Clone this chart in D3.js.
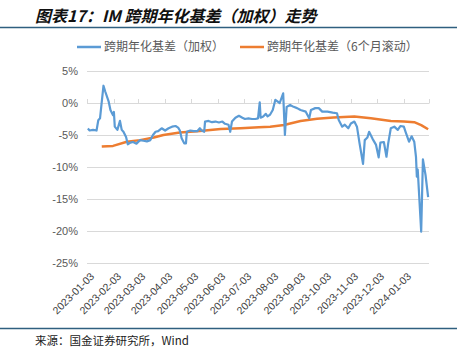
<!DOCTYPE html>
<html>
<head>
<meta charset="utf-8">
<script src="https://cdn.jsdelivr.net/npm/d3@7"></script>
<style>
  body { margin: 0; background: #fff; }
  svg { display: block; font-family: "Noto Sans CJK SC", "Noto Sans", sans-serif; }
</style>
</head>
<body>
<svg width="457" height="351"></svg>
<script>
// series 1: weighted basis (dates)
const blueDates = ["2023-01-04","2023-01-06","2023-01-10","2023-01-14","2023-01-16","2023-01-18","2023-01-19","2023-01-22","2023-01-24","2023-01-28",
  "2023-01-30","2023-02-02","2023-02-03","2023-02-04","2023-02-07","2023-02-10","2023-02-12","2023-02-14","2023-02-17","2023-02-19",
  "2023-02-22","2023-02-25","2023-03-01","2023-03-05","2023-03-09","2023-03-13","2023-03-17","2023-03-20","2023-03-23","2023-03-26",
  "2023-03-30","2023-04-03","2023-04-07","2023-04-11","2023-04-15","2023-04-18","2023-04-20","2023-04-22","2023-04-25","2023-04-27",
  "2023-04-28","2023-05-02","2023-05-06","2023-05-10","2023-05-13","2023-05-15","2023-05-18","2023-05-19","2023-05-23","2023-05-27",
  "2023-05-31","2023-06-04","2023-06-08","2023-06-11","2023-06-15","2023-06-17","2023-06-19","2023-06-23","2023-06-27","2023-07-01",
  "2023-07-04","2023-07-08","2023-07-12","2023-07-16","2023-07-19","2023-07-21","2023-07-22","2023-07-25","2023-07-28","2023-07-30",
  "2023-08-02","2023-08-05","2023-08-08","2023-08-10","2023-08-13","2023-08-17","2023-08-19","2023-08-21","2023-08-25","2023-08-29",
  "2023-09-02","2023-09-06","2023-09-12","2023-09-16","2023-09-18","2023-09-23","2023-09-27","2023-10-01","2023-10-07","2023-10-13",
  "2023-10-18","2023-10-20","2023-10-24","2023-10-27","2023-10-31","2023-11-03","2023-11-07","2023-11-10","2023-11-13","2023-11-17",
  "2023-11-19","2023-11-22","2023-11-24","2023-11-28","2023-12-02","2023-12-05","2023-12-07","2023-12-11","2023-12-14","2023-12-16",
  "2023-12-19","2023-12-23","2023-12-27","2023-12-30","2024-01-03","2024-01-05","2024-01-09","2024-01-12","2024-01-15","2024-01-17",
  "2024-01-18","2024-01-19","2024-01-23","2024-01-25","2024-01-28","2024-01-31"];
const blueValues = [-4.0,-4.3,-4.2,-4.3,-2.7,-2.4,-1.1,2.7,1.8,0.2,
  -1.1,-1.9,-1.4,-3.7,-4.2,-2.8,-4.2,-4.5,-5.3,-6.45,
  -6.2,-6.1,-6.35,-5.8,-5.9,-6.0,-5.8,-5.0,-4.5,-4.4,
  -3.95,-4.3,-3.95,-3.7,-3.6,-3.85,-4.3,-5.5,-6.3,-6.3,
  -4.5,-4.3,-4.4,-4.4,-3.95,-4.3,-4.5,-2.9,-2.8,-3.0,
  -2.9,-3.05,-2.9,-3.25,-3.4,-4.5,-2.9,-2.3,-2.0,-2.3,
  -2.5,-2.4,-2.5,-2.5,-2.4,0.1,-2.3,-2.1,-1.7,-2.1,
  -1.8,-1.1,0.5,0.3,0.0,1.5,-5.0,-0.6,-0.3,-0.6,
  -0.8,-1.1,-1.35,-2.4,-1.1,-0.8,-0.8,-1.35,-1.35,-1.5,
  -1.6,-2.65,-3.7,-3.4,-3.95,-3.2,-2.9,-3.7,-6.3,-9.5,
  -5.8,-5.4,-4.5,-5.6,-6.55,-8.5,-6.2,-6.1,-8.4,-6.3,
  -3.95,-3.7,-4.2,-3.6,-3.7,-4.5,-6.05,-5.2,-6.05,-8.4,
  -11.5,-10.4,-20.1,-8.8,-11.25,-14.7];

// series 2: 6-month rolling
const orangeDates = ["2023-01-20","2023-02-02","2023-02-18","2023-03-05","2023-03-21","2023-04-01","2023-04-20","2023-05-10","2023-06-06","2023-06-29",
  "2023-07-20","2023-08-02","2023-08-18","2023-09-06","2023-09-25","2023-10-14","2023-11-07","2023-11-26","2023-12-19","2024-01-03",
  "2024-01-15","2024-01-23","2024-01-31"];
const orangeValues = [-6.8,-6.7,-6.05,-5.8,-5.4,-5.0,-4.6,-4.4,-4.05,-3.95,
  -3.8,-3.7,-3.45,-2.8,-2.45,-2.25,-2.1,-2.4,-2.8,-2.9,
  -3.0,-3.45,-4.1];

const yTicks = [5, 0, -5, -10, -15, -20, -25];
const xTickLabels = ["2023-01-03","2023-02-03","2023-03-03","2023-04-03","2023-05-03","2023-06-03","2023-07-03",
  "2023-08-03","2023-09-03","2023-10-03","2023-11-03","2023-12-03","2024-01-03"];
const seriesNames = ["跨期年化基差（加权）", "跨期年化基差（6个月滚动）"];

const parse = d3.timeParse("%Y-%m-%d");
const svg = d3.select("svg");

const x = d3.scaleTime()
  .domain([parse("2023-01-03"), parse("2024-02-01")])
  .range([87, 429]);
const y = d3.scaleLinear().domain([-25, 5]).range([263, 71]);

// title
svg.append("text")
  .attr("x", 35).attr("y", 22)
  .attr("font-size", 16).attr("font-weight", "bold").attr("font-style", "italic")
  .attr("fill", "#111")
  .text("图表17：IM 跨期年化基差（加权）走势");
svg.append("line").attr("x1", 0).attr("x2", 457).attr("y1", 27.5).attr("y2", 27.5)
  .attr("stroke", "#2f5f7f").attr("stroke-width", 1.5);

// legend
const legend = svg.append("g");
[[77, "#5b9bd5"], [240, "#ed7d31"]].forEach((d, i) => {
  legend.append("line").attr("x1", d[0]).attr("x2", d[0] + 24).attr("y1", 47).attr("y2", 47)
    .attr("stroke", d[1]).attr("stroke-width", 2.5);
  legend.append("text").attr("x", d[0] + 27).attr("y", 51)
    .attr("font-size", 12).attr("fill", "#595959").text(seriesNames[i]);
});

// grid + y labels
svg.append("g").selectAll("line").data(yTicks).join("line")
  .attr("x1", 87).attr("x2", 429)
  .attr("y1", d => y(d) + 0.5).attr("y2", d => y(d) + 0.5)
  .attr("stroke", "#d9d9d9").attr("stroke-width", 1);
svg.append("g").selectAll("text").data(yTicks).join("text")
  .attr("x", 78).attr("y", d => y(d) + 4)
  .attr("text-anchor", "end").attr("font-size", 11).attr("fill", "#595959")
  .attr("font-family", "Liberation Sans, Arial, sans-serif")
  .text(d => d + "%");

// x axis ticks at 0%
svg.append("g").selectAll("line").data(xTickLabels.concat(["2024-02-01"])).join("line")
  .attr("x1", d => Math.round(x(parse(d))) + 0.5).attr("x2", d => Math.round(x(parse(d))) + 0.5)
  .attr("y1", y(0) - 4).attr("y2", y(0) + 0.5)
  .attr("stroke", "#d9d9d9");

// x labels
svg.append("g").selectAll("text").data(xTickLabels).join("text")
  .attr("transform", d => `translate(${x(parse(d)) + 8},${277}) rotate(-45)`)
  .attr("text-anchor", "end").attr("font-size", 10.5).attr("fill", "#404040")
  .attr("font-family", "Liberation Sans, Arial, sans-serif")
  .text(d => d);

// lines
const line = d3.line().x(d => x(d[0])).y(d => y(d[1]));
svg.append("path")
  .datum(orangeDates.map((d, i) => [parse(d), orangeValues[i]]))
  .attr("d", line).attr("fill", "none")
  .attr("stroke", "#ed7d31").attr("stroke-width", 2.5).attr("stroke-linejoin", "round");
svg.append("path")
  .datum(blueDates.map((d, i) => [parse(d), blueValues[i]]))
  .attr("d", line).attr("fill", "none")
  .attr("stroke", "#5b9bd5").attr("stroke-width", 2.2).attr("stroke-linejoin", "round");

// footer
svg.append("line").attr("x1", 0).attr("x2", 457).attr("y1", 328.5).attr("y2", 328.5)
  .attr("stroke", "#2f5f7f").attr("stroke-width", 1.5);
svg.append("text").attr("x", 35).attr("y", 345)
  .attr("font-size", 11.5).attr("fill", "#222")
  .text("来源：国金证券研究所，Wind");
</script>
</body>
</html>
